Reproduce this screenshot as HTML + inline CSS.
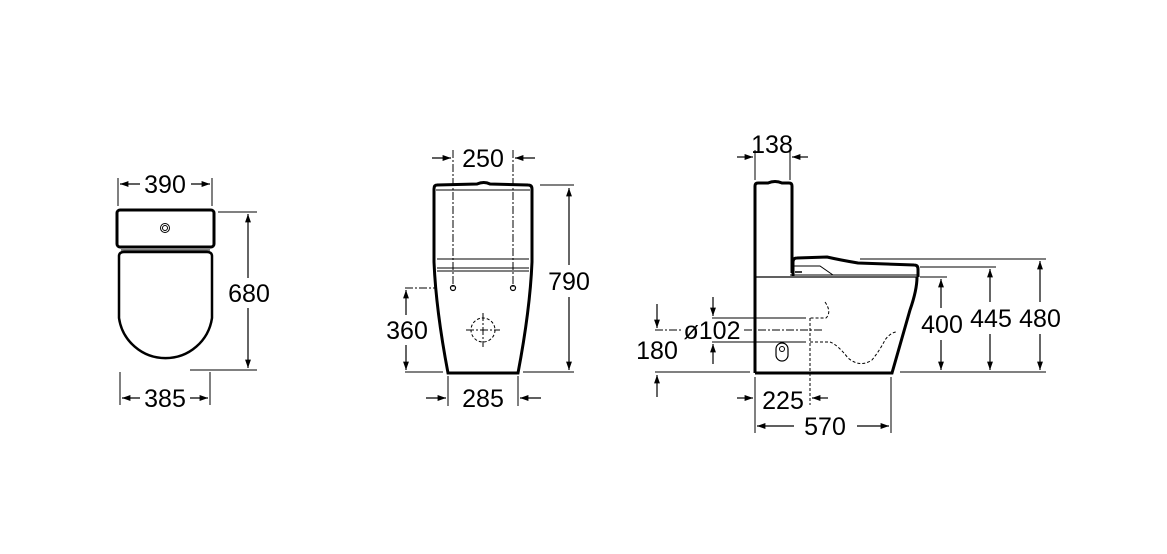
<!DOCTYPE html>
<html><head><meta charset="utf-8"><style>
html,body{margin:0;padding:0;background:#fff;}
svg{display:block;}
text{font-family:"Liberation Sans",sans-serif;font-size:25px;fill:#000;text-anchor:middle;}
</style></head><body>
<svg width="1167" height="554" viewBox="0 0 1167 554" xmlns="http://www.w3.org/2000/svg">
<defs>
<marker id="a" viewBox="0 0 10 10" refX="10" refY="5" markerWidth="7" markerHeight="7" orient="auto-start-reverse"><path d="M0,1.5 L10,5 L0,8.5 z" fill="#000"/></marker>
</defs>
<g fill="none" stroke="#000">
<!-- LEFT VIEW -->
<rect x="117" y="210" width="97" height="37" rx="3" stroke-width="3"/>
<circle cx="165" cy="228" r="4.5" stroke-width="1"/><circle cx="165" cy="228" r="2.5" stroke-width="1"/>
<line x1="121" y1="250" x2="210" y2="250" stroke-width="1"/>
<path d="M119,256 Q119,252 124,252 L207,252 Q212,252 212,256 L212,318 A47,47 0 0 1 119,318 Z" stroke-width="2.5"/>
<line x1="118" y1="178" x2="118" y2="206" stroke-width="1"/><line x1="212" y1="178" x2="212" y2="206" stroke-width="1"/>
<line x1="140" y1="184" x2="120" y2="184" stroke-width="1.2" marker-end="url(#a)"/>
<line x1="191" y1="184" x2="210" y2="184" stroke-width="1.2" marker-end="url(#a)"/>
<line x1="218" y1="212" x2="257" y2="212" stroke-width="1"/><line x1="190" y1="370" x2="257" y2="370" stroke-width="1"/>
<line x1="248" y1="278" x2="248" y2="214" stroke-width="1.2" marker-end="url(#a)"/>
<line x1="248" y1="308" x2="248" y2="368" stroke-width="1.2" marker-end="url(#a)"/>
<line x1="120" y1="372" x2="120" y2="405" stroke-width="1"/><line x1="210" y1="372" x2="210" y2="405" stroke-width="1"/>
<line x1="140" y1="398" x2="122" y2="398" stroke-width="1.2" marker-end="url(#a)"/>
<line x1="190" y1="398" x2="208" y2="398" stroke-width="1.2" marker-end="url(#a)"/>

<!-- MIDDLE VIEW -->
<path d="M437,185 Q434,185 434,189 L434,262 Q436,310 448,373 L518,373 Q530,310 532,262 L532,189 Q532,185 528,185 L490,184 Q484,181 477,184 Z" stroke-width="3"/>
<line x1="436" y1="190" x2="530" y2="190" stroke-width="1"/>
<path d="M437,259 L529,259 M437,268 L529,268" stroke-width="1"/>
<line x1="437" y1="271" x2="529" y2="271" stroke-width="1"/>
<line x1="453" y1="150" x2="453" y2="287" stroke-width="1" stroke-dasharray="8,2,2,2"/>
<line x1="513" y1="150" x2="513" y2="287" stroke-width="1" stroke-dasharray="8,2,2,2"/>
<circle cx="453" cy="288" r="2.5" stroke-width="1.2"/><circle cx="513" cy="288" r="2.5" stroke-width="1.2"/>
<circle cx="483" cy="330" r="12" stroke-width="1" stroke-dasharray="3,2"/>
<line x1="466" y1="330" x2="500" y2="330" stroke-width="1" stroke-dasharray="8,2,2,2"/>
<line x1="483" y1="313" x2="483" y2="347" stroke-width="1" stroke-dasharray="8,2,2,2"/>
<line x1="432" y1="158" x2="451" y2="158" stroke-width="1.2" marker-end="url(#a)"/>
<line x1="535" y1="158" x2="515" y2="158" stroke-width="1.2" marker-end="url(#a)"/>
<line x1="540" y1="185" x2="574" y2="185" stroke-width="1"/><line x1="523" y1="372" x2="574" y2="372" stroke-width="1"/>
<line x1="569" y1="265" x2="569" y2="188" stroke-width="1.2" marker-end="url(#a)"/>
<line x1="569" y1="297" x2="569" y2="370" stroke-width="1.2" marker-end="url(#a)"/>
<line x1="405" y1="288" x2="437" y2="288" stroke-width="1" stroke-dasharray="8,2,2,2"/>
<line x1="405" y1="372" x2="443" y2="372" stroke-width="1"/>
<line x1="406" y1="315" x2="406" y2="290" stroke-width="1.2" marker-end="url(#a)"/>
<line x1="406" y1="345" x2="406" y2="370" stroke-width="1.2" marker-end="url(#a)"/>
<line x1="448" y1="376" x2="448" y2="406" stroke-width="1"/><line x1="518" y1="376" x2="518" y2="406" stroke-width="1"/>
<line x1="426" y1="398" x2="446" y2="398" stroke-width="1.2" marker-end="url(#a)"/>
<line x1="541" y1="398" x2="520" y2="398" stroke-width="1.2" marker-end="url(#a)"/>

<!-- RIGHT VIEW -->
<path d="M755,373 L755,186 Q755,183 758,183 L768,183 Q775,180 782,183 L789,183 Q792,183 792,186 L792,273" stroke-width="3"/>
<path d="M755,373 L892,373 L910,310 Q917,290 917,277" stroke-width="3"/>
<line x1="755" y1="277" x2="917" y2="277" stroke-width="1.2"/>
<line x1="790" y1="275" x2="917" y2="275" stroke-width="1"/>
<path d="M793,276 L793,262 Q793,258 797,258 L827,257 Q840,260 858,263 L914,265 Q918,265 918,269 L918,277" stroke-width="3"/>
<path d="M793,266 L820,266 L833,275" stroke-width="1"/>
<line x1="795" y1="272" x2="802" y2="272" stroke-width="1.5"/>
<line x1="755" y1="150" x2="755" y2="180" stroke-width="1"/><line x1="790" y1="150" x2="790" y2="180" stroke-width="1"/>
<line x1="737" y1="157" x2="753" y2="157" stroke-width="1.2" marker-end="url(#a)"/>
<line x1="808" y1="157" x2="792" y2="157" stroke-width="1.2" marker-end="url(#a)"/>
<line x1="860" y1="259" x2="1046" y2="259" stroke-width="1"/>
<line x1="920" y1="267" x2="996" y2="267" stroke-width="1"/>
<line x1="920" y1="277" x2="947" y2="277" stroke-width="1"/>
<line x1="900" y1="372" x2="1046" y2="372" stroke-width="1"/>
<line x1="1040" y1="302" x2="1040" y2="261" stroke-width="1.2" marker-end="url(#a)"/>
<line x1="1040" y1="334" x2="1040" y2="370" stroke-width="1.2" marker-end="url(#a)"/>
<line x1="990" y1="302" x2="990" y2="269" stroke-width="1.2" marker-end="url(#a)"/>
<line x1="990" y1="334" x2="990" y2="370" stroke-width="1.2" marker-end="url(#a)"/>
<line x1="941" y1="308" x2="941" y2="279" stroke-width="1.2" marker-end="url(#a)"/>
<line x1="941" y1="340" x2="941" y2="370" stroke-width="1.2" marker-end="url(#a)"/>
<path d="M825,302 Q832,312 826,318 L810,318 M810,342 L830,342 Q838,345 848,358 Q860,368 872,360 Q880,350 885,340 Q890,333 896,332" stroke-width="1" stroke-dasharray="3,2"/>
<line x1="810" y1="318" x2="810" y2="405" stroke-width="1" stroke-dasharray="3,2"/>
<rect x="776" y="343" width="12" height="18" rx="6" stroke-width="1.2"/>
<circle cx="782" cy="349" r="2.5" stroke-width="1"/>
<line x1="712" y1="318" x2="806" y2="318" stroke-width="1"/>
<line x1="712" y1="342" x2="806" y2="342" stroke-width="1"/>
<line x1="655" y1="330" x2="682" y2="330" stroke-width="1" stroke-dasharray="8,2,2,2"/>
<line x1="744" y1="330" x2="822" y2="330" stroke-width="1" stroke-dasharray="8,2,2,2"/>
<line x1="713" y1="297" x2="713" y2="316" stroke-width="1.2" marker-end="url(#a)"/>
<line x1="713" y1="364" x2="713" y2="344" stroke-width="1.2" marker-end="url(#a)"/>
<line x1="657" y1="304" x2="657" y2="328" stroke-width="1.2" marker-end="url(#a)"/>
<line x1="657" y1="397" x2="657" y2="375" stroke-width="1.2" marker-end="url(#a)"/>
<line x1="655" y1="372" x2="750" y2="372" stroke-width="1"/>
<line x1="755" y1="377" x2="755" y2="433" stroke-width="1"/><line x1="891" y1="377" x2="891" y2="433" stroke-width="1"/>
<line x1="737" y1="398" x2="753" y2="398" stroke-width="1.2" marker-end="url(#a)"/>
<line x1="828" y1="398" x2="812" y2="398" stroke-width="1.2" marker-end="url(#a)"/>
<line x1="794" y1="426" x2="757" y2="426" stroke-width="1.2" marker-end="url(#a)"/>
<line x1="857" y1="426" x2="889" y2="426" stroke-width="1.2" marker-end="url(#a)"/>
</g>
<text x="165" y="193">390</text>
<text x="249" y="302">680</text>
<text x="165" y="407">385</text>
<text x="483" y="167">250</text>
<text x="569" y="290">790</text>
<text x="407" y="339">360</text>
<text x="483" y="407">285</text>
<text x="772" y="153">138</text>
<text x="1040" y="327">480</text>
<text x="991" y="327">445</text>
<text x="942" y="333">400</text>
<text x="712" y="339">ø102</text>
<text x="657" y="359">180</text>
<text x="783" y="409">225</text>
<text x="825" y="435">570</text>
</svg>
</body></html>
